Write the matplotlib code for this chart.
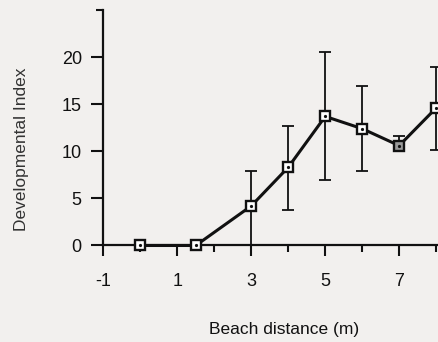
import matplotlib
matplotlib.use("Agg")
import matplotlib.pyplot as plt
import numpy as np

# Data
distance = [0, 1.5, 3, 4, 5, 6, 7, 8]
dev_index = [0.0, 0.0, 4.2, 8.3, 13.7, 12.4, 10.6, 14.6]
err_low = [0.0, 0.0, 4.2, 4.5, 6.8, 4.5, 0.3, 4.5]
err_high = [0.0, 0.0, 3.7, 4.4, 6.8, 4.5, 1.0, 4.4]
face_colors = ["white", "white", "white", "white", "white", "white", "#9a9a9a", "white"]
xticks_major = [-1, 1, 3, 5, 7]
xtick_labels = ["-1", "1", "3", "5", "7"]
xticks_minor = [0, 2, 4, 6, 8]
yticks_major = [0, 5, 10, 15, 20]
yticks_minor = [25]

bg = "#f2f0ee"
ink = "#111111"
plt.rcParams['font.family'] = ['Liberation Sans', 'DejaVu Sans']

fig = plt.figure(figsize=(4.38, 3.42), dpi=100, facecolor=bg)
ax = fig.add_axes([0.2359, 0.2822, 0.7641, 0.6886], facecolor=bg)

ax.errorbar(distance, dev_index, yerr=[err_low, err_high], fmt='none', ecolor=ink,
            elinewidth=1.3, capsize=4, capthick=1.3, clip_on=False, zorder=2)
ax.plot(distance, dev_index, color=ink, lw=2.2, zorder=3, clip_on=False)
for xv, yv, fc in zip(distance, dev_index, face_colors):
    ax.plot([xv], [yv], marker='s', ms=7.2, mfc=fc, mec=ink, mew=1.7,
            zorder=4, clip_on=False, ls='none')
    ax.plot([xv], [yv], marker='o', ms=1.3, mfc=ink, mec=ink,
            zorder=5, clip_on=False, ls='none')

ax.set_xlim(-1, 8.05)
ax.set_ylim(0, 25)

for s in ['top', 'right']:
    ax.spines[s].set_visible(False)
for s in ['left', 'bottom']:
    ax.spines[s].set_linewidth(1.6)
    ax.spines[s].set_color(ink)

ax.set_xticks(xticks_major)
ax.set_xticklabels(xtick_labels)
ax.set_xticks(xticks_minor, minor=True)
ax.set_yticks(yticks_major)
ax.set_yticks(yticks_minor, minor=True)
ax.tick_params(axis='x', which='major', direction='out', length=8, width=1.5,
               pad=12, labelsize=13, colors=ink)
ax.tick_params(axis='x', which='minor', direction='out', length=5, width=1.5, colors=ink)
ax.tick_params(axis='y', which='major', direction='out', length=9, width=1.5,
               pad=6.5, labelsize=13, colors=ink)
ax.tick_params(axis='y', which='minor', direction='out', length=5, width=1.5, colors=ink)

fig.text(0.648, 0.0365, "Beach distance (m)", ha='center', va='center',
         fontsize=12.5, color=ink)
fig.text(0.0495, 0.564, "Developmental Index", ha='center', va='center',
         rotation=90, fontsize=12.5, color="#333333")

fig.savefig("out.png", dpi=100, facecolor=bg)
